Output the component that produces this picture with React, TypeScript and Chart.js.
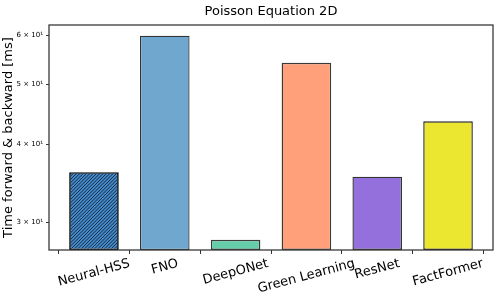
import React, { useEffect, useRef } from "react";
import { Chart, registerables } from "chart.js";

Chart.register(...registerables);

const categories = ["Neural-HSS", "FNO", "DeepONet", "Green Learning", "ResNet", "FactFormer"];
const timesMs = [36.1, 59.9, 28.1, 54.2, 35.5, 43.6];
const yTickValues = [30, 40, 50, 60];
const yTickLabels = ["3 × 10¹", "4 × 10¹", "5 × 10¹", "6 × 10¹"];
const barColors = ["hatch", "#6fa7cf", "#66cdaa", "#ffa07a", "#9370db", "#ebe62f"];
const edgeColors = ["#000000", "#333333", "#3a3a3a", "#3a3a3a", "#333333", "#222222"];
const titleText = "Poisson Equation 2D";
const yTitle = "Time forward & backward [ms]";

const FONT = "'DejaVu Sans', sans-serif";

function makeHatch(): CanvasPattern | string {
  const c = document.createElement("canvas");
  c.width = 10;
  c.height = 10;
  const g = c.getContext("2d");
  if (!g) return "#3f7fbd";
  g.fillStyle = "#4489cb";
  g.fillRect(0, 0, 10, 10);
  g.strokeStyle = "#10202f";
  g.lineWidth = 0.9;
  const p = 10 / 3;
  for (let k = 0; k <= 6; k++) {
    const cc = k * p;
    g.beginPath();
    g.moveTo(cc + 1, -1);
    g.lineTo(cc - 11, 11);
    g.stroke();
  }
  const pat = g.createPattern(c, "repeat");
  return pat || "#3f7fbd";
}

export default function App() {
  const ref = useRef<HTMLCanvasElement>(null);
  useEffect(() => {
    document.body.style.margin = "0";
    const canvas = ref.current;
    if (!canvas) return;
    const hatch = makeHatch();
    const bg = barColors.map((c) => (c === "hatch" ? hatch : c));

    const overlay = {
      id: "overlay",
      afterDraw(chart: any) {
        const ctx = chart.ctx as CanvasRenderingContext2D;
        const a = chart.chartArea;
        ctx.save();
        // frame
        ctx.strokeStyle = "#3a3a3a";
        ctx.lineWidth = 1.3;
        ctx.strokeRect(a.left, a.top, a.right - a.left, a.bottom - a.top);
        // title
        ctx.fillStyle = "#000";
        ctx.font = `13px ${FONT}`;
        ctx.textAlign = "center";
        ctx.textBaseline = "middle";
        ctx.fillText(titleText, (a.left + a.right) / 2, 12);
        // y title
        ctx.save();
        ctx.translate(9, (a.top + a.bottom) / 2);
        ctx.rotate(-Math.PI / 2);
        ctx.font = `13px ${FONT}`;
        ctx.fillText(yTitle, 0, 0);
        ctx.restore();
        // x labels rotated 15deg, centred
        const rot = (15 * Math.PI) / 180;
        ctx.font = `13px ${FONT}`;
        const xs = chart.scales.x;
        categories.forEach((lab, i) => {
          const x = xs.getPixelForValue(i);
          const w = ctx.measureText(lab).width;
          const h = 13 * 1.17;
          const bh = w * Math.sin(rot) + h * Math.cos(rot);
          const yc = a.bottom + 6 + bh / 2;
          ctx.save();
          ctx.translate(x, yc);
          ctx.rotate(-rot);
          ctx.fillText(lab, 0, 0);
          ctx.restore();
        });
        ctx.restore();
      },
    };

    const chart = new Chart(canvas, {
      type: "bar",
      data: {
        datasets: [
          {
            data: timesMs.map((v, i) => ({ x: i, y: v })),
            backgroundColor: bg as any,
            borderColor: edgeColors,
            borderWidth: [1.6, 1.3, 1.5, 1.4, 1.4, 1.4],
            barPercentage: 0.7,
            categoryPercentage: 1,
            borderSkipped: false,
          },
        ],
      },
      options: {
        animation: false,
        responsive: false,
        events: [],
        layout: { padding: { top: 25, right: 6, left: 0, bottom: 0 } },
        plugins: {
          legend: { display: false },
          title: { display: false },
          tooltip: { enabled: false },
        },
        scales: {
          x: {
            type: "linear",
            min: -0.635,
            max: 5.635,
            offset: false,
            afterBuildTicks(scale: any) {
              scale.ticks = categories.map((_, i) => ({ value: i }));
            },
            afterFit(scale: any) {
              scale.height = 47;
            },
            ticks: { display: false },
            grid: {
              drawOnChartArea: false,
              drawTicks: true,
              tickLength: 4,
              color: "#333333",
              tickWidth: 1,
            },
            border: { display: false },
          },
          y: {
            type: "logarithmic",
            min: 27.04,
            max: 62.35,
            afterBuildTicks(scale: any) {
              scale.ticks = yTickValues.map((v) => ({ value: v }));
            },
            afterFit(scale: any) {
              scale.width = 49;
            },
            ticks: {
              font: { family: FONT, size: 7 },
              color: "#000",
              padding: 3,
              callback: (v: any) => {
                const idx = yTickValues.indexOf(Number(v));
                return idx >= 0 ? yTickLabels[idx] : "";
              },
            },
            grid: {
              drawOnChartArea: false,
              drawTicks: true,
              tickLength: 3,
              color: "#333333",
            },
            border: { display: false },
          },
        },
      } as any,
      plugins: [overlay],
    });
    return () => chart.destroy();
  }, []);
  return <canvas ref={ref} width={499} height={297} style={{ display: "block" }} />;
}
